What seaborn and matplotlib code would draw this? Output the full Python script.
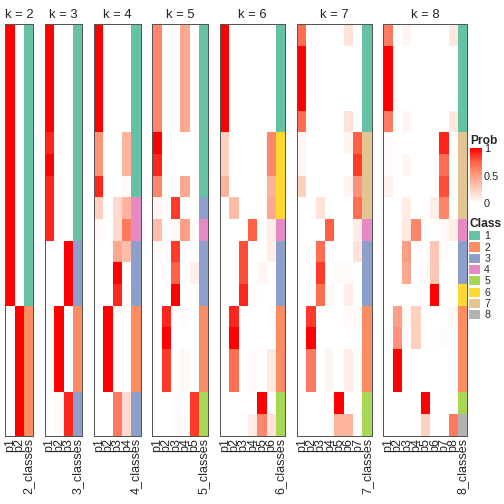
import numpy as np
import pandas as pd
import seaborn as sns
import matplotlib.pyplot as plt
from matplotlib.colors import LinearSegmentedColormap, ListedColormap, Normalize
from matplotlib.cm import ScalarMappable
from matplotlib.patches import Patch

# membership probabilities, one row per sample (19 samples)
probs_k2 = [[1, 0]] * 13 + [[0, 1]] * 6
classes_k2 = [1] * 13 + [2] * 6

probs_k3 = ([[1, 0, 0]] * 5 + [[0.9, 0.03, 0], [1, 0, 0]] + [[0.9, 0.03, 0]] * 3
            + [[0, 0, 1]] * 3 + [[0, 1, 0]] * 4 + [[0, 0.03, 0.9]] * 2)
classes_k3 = [1] * 10 + [3] * 3 + [2] * 4 + [3] * 2

probs_k4 = ([[1, 0, 0, 0]] * 5 + [[0.55, 0, 0, 0.4]] * 2 + [[0.9, 0, 0, 0.03],
            [0.25, 0, 0.2, 0.4], [0.03, 0, 0.2, 0.65], [0, 0, 0.45, 0.35],
            [0, 0, 1, 0], [0, 0, 0.9, 0.02]] + [[0, 1, 0, 0]] * 4
            + [[0, 0, 0.65, 0.2]] * 2)
classes_k4 = [1] * 8 + [4] * 2 + [3] * 3 + [2] * 4 + [3] * 2

probs_k5 = ([[0.6, 0, 0, 0.45, 0]] * 5 + [[1, 0, 0, 0, 0], [0.9, 0.01, 0, 0, 0],
            [0.6, 0, 0, 0.45, 0], [0.05, 0, 0.85, 0, 0], [0.35, 0, 0.03, 0.5, 0.02],
            [0.03, 0, 0.85, 0, 0], [0, 0, 0.75, 0, 0.08], [0, 0, 1, 0, 0],
            [0, 0.9, 0, 0.02, 0], [0, 1, 0, 0, 0]] + [[0, 0.85, 0, 0.04, 0]] * 2
            + [[0, 0, 0.02, 0, 0.85], [0, 0, 0.02, 0.02, 0.85]])
classes_k5 = [1] * 8 + [3, 4, 3, 3, 3] + [2] * 4 + [5] * 2

probs_k6 = ([[1, 0, 0, 0, 0, 0]] * 5 + [[0.25, 0, 0, 0, 0, 0.6]] * 2
            + [[0.4, 0, 0, 0, 0, 0.4], [0, 0.35, 0, 0, 0, 0.45],
               [0, 0, 0, 0.75, 0, 0.1], [0, 0, 0.8, 0, 0, 0.1],
               [0, 0, 0.8, 0, 0.05, 0], [0, 0, 0.9, 0.02, 0, 0],
               [0, 0.9, 0, 0, 0, 0.02], [0, 1, 0, 0, 0, 0]]
            + [[0, 0.7, 0, 0.03, 0, 0.12]] * 2
            + [[0, 0, 0, 0, 1, 0], [0, 0, 0, 0.1, 0.6, 0.15]])
classes_k6 = [1] * 5 + [6] * 4 + [4] + [3] * 3 + [2] * 4 + [5] * 2

probs_k7 = ([[0.7, 0, 0, 0, 0, 0.15, 0]] + [[1, 0, 0, 0, 0, 0, 0]] * 3
            + [[0.7, 0, 0, 0, 0, 0.15, 0], [0.05, 0, 0, 0, 0, 0.05, 0.75],
               [0.05, 0, 0, 0, 0, 0, 0.85], [0.25, 0, 0, 0, 0, 0.05, 0.55],
               [0, 0, 0.15, 0, 0, 0, 0.7], [0, 0, 0, 0.75, 0, 0, 0.1],
               [0, 0, 0.7, 0, 0, 0, 0.15], [0, 0, 0.85, 0, 0.03, 0.03, 0],
               [0, 0, 0.7, 0.03, 0, 0.1, 0], [0, 0.85, 0, 0, 0, 0.03, 0.03],
               [0, 1, 0, 0, 0, 0, 0]] + [[0, 0.65, 0, 0.05, 0, 0.1, 0.02]] * 2
            + [[0, 0, 0, 0, 1, 0, 0], [0, 0, 0, 0, 0.4, 0.4, 0]])
classes_k7 = [1] * 5 + [7] * 4 + [4] + [3] * 3 + [2] * 4 + [5] * 2

probs_k8 = ([[0.65, 0, 0.05, 0, 0, 0, 0, 0.12]] + [[1, 0, 0, 0, 0, 0, 0, 0]] * 3
            + [[0.65, 0, 0.05, 0, 0, 0, 0, 0.12], [0.02, 0, 0, 0, 0, 0, 0.9, 0],
               [0.02, 0, 0.05, 0, 0, 0, 0.7, 0], [0.07, 0, 0, 0, 0, 0, 0.8, 0],
               [0, 0, 0.1, 0, 0, 0.1, 0.6, 0], [0, 0, 0.12, 0.6, 0, 0, 0.03, 0.1],
               [0, 0, 0.5, 0, 0, 0.3, 0.02, 0], [0, 0, 0.45, 0, 0.03, 0.3, 0, 0],
               [0, 0, 0, 0, 0, 1, 0, 0], [0, 0.5, 0.04, 0.25, 0, 0, 0, 0.04],
               [0, 0.55, 0, 0.25, 0, 0, 0.02, 0]] + [[0, 1, 0, 0, 0, 0, 0, 0]] * 2
            + [[0, 0, 0, 0, 1, 0, 0, 0], [0, 0, 0, 0, 0.25, 0, 0, 0.65]])
classes_k8 = [1] * 5 + [7] * 4 + [4] + [3] * 2 + [6] + [2] * 4 + [5, 8]

ks = [2, 3, 4, 5, 6, 7, 8]
all_probs = [probs_k2, probs_k3, probs_k4, probs_k5, probs_k6, probs_k7, probs_k8]
all_classes = [classes_k2, classes_k3, classes_k4, classes_k5, classes_k6, classes_k7, classes_k8]
class_colors = ["#66C2A5", "#FC8D62", "#8DA0CB", "#E78AC3",
                "#A6D854", "#FFD92F", "#E5C494", "#B3B3B3"]

sns.set_theme(style="white")
plt.rcParams['font.family'] = ['Liberation Sans', 'DejaVu Sans']

prob_cmap = LinearSegmentedColormap.from_list(
    "prob", [(0, "#FFFFFF"), (0.25, "#FFD0C0"), (0.5, "#FF9E84"), (0.75, "#FF6245"), (1, "#FF0000")])
class_cmap = ListedColormap(class_colors)

W = 504.0
fig = plt.figure(figsize=(7, 7), dpi=72)

col_w, gap, x0 = 9.33, 11.7, 5.3
top, bottom = 24, 435.7
x = x0
for k, probs, classes in zip(ks, all_probs, all_classes):
    df = pd.DataFrame(probs, columns=[f"p{i + 1}" for i in range(k)])
    df[f"{k}_classes"] = classes
    mask = np.zeros(df.shape, dtype=bool)
    mask[:, -1] = True
    w = col_w * (k + 1)
    ax = fig.add_axes([x / W, 1 - bottom / W, w / W, (bottom - top) / W])
    sns.heatmap(df, mask=mask, cmap=prob_cmap, vmin=0, vmax=1, cbar=False,
                ax=ax, xticklabels=True, yticklabels=False)
    sns.heatmap(df, mask=~mask, cmap=class_cmap, vmin=0.5, vmax=8.5, cbar=False,
                ax=ax, xticklabels=True, yticklabels=False)
    ax.set_xticklabels(df.columns, rotation=90, fontsize=12.5)
    ax.tick_params(axis='x', length=0, pad=2)
    ax.set_title(f"k = {k}", fontsize=13, pad=6)
    for s in ax.spines.values():
        s.set_visible(True)
        s.set_color("#555555")
        s.set_linewidth(1)
    x += w + gap

# probability colour bar
cax = fig.add_axes([470 / W, 1 - 203.3 / W, 11.7 / W, 55 / W])
cb = fig.colorbar(ScalarMappable(norm=Normalize(0, 1), cmap=prob_cmap), cax=cax, ticks=[0, 0.5, 1])
cb.outline.set_visible(False)
cb.set_ticklabels(["0", "0.5", "1"])
cax.tick_params(labelsize=11, color="white", direction="in", length=3, width=1, pad=2)
cax.set_title("Prob", loc="left", fontweight="bold", fontsize=12, pad=4)

# class legend
handles = [Patch(facecolor=c, edgecolor="none") for c in class_colors]
fig.legend(handles, [str(i + 1) for i in range(8)], title="Class", loc="upper left",
           bbox_to_anchor=(469 / W, 1 - 218 / W), frameon=False, fontsize=10.5,
           handlelength=1.05, handleheight=0.95, handletextpad=0.4, labelspacing=0.11,
           borderpad=0, borderaxespad=0, alignment="left",
           title_fontproperties={"weight": "bold", "size": 12})

fig.savefig("out.png", dpi=72)
